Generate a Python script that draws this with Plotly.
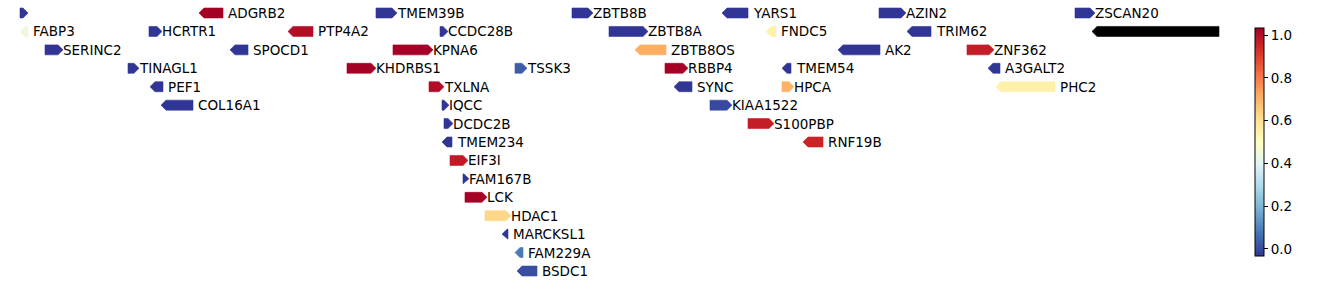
import math
import plotly.graph_objects as go
from plotly.colors import sample_colorscale

# ---------------- data ----------------
genes = ["", "FABP3", "SERINC2", "TINAGL1", "HCRTR1", "PEF1", "COL16A1", "ADGRB2",
         "SPOCD1", "PTP4A2", "KHDRBS1", "TMEM39B", "KPNA6", "TXLNA", "CCDC28B", "IQCC",
         "DCDC2B", "TMEM234", "EIF3I", "FAM167B", "LCK", "HDAC1", "MARCKSL1", "TSSK3",
         "FAM229A", "BSDC1", "ZBTB8B", "ZBTB8A", "ZBTB8OS", "RBBP4", "SYNC", "KIAA1522",
         "YARS1", "S100PBP", "FNDC5", "HPCA", "TMEM54", "RNF19B", "AK2", "AZIN2",
         "TRIM62", "ZNF362", "A3GALT2", "PHC2", "ZSCAN20", ""]
starts = [20, 25, 45, 128, 149, 155, 166, 204,
          235, 293, 347, 376, 393, 429, 440, 442,
          444, 447, 450, 463, 465, 485, 507, 515,
          520, 522, 572, 609, 640, 665, 679, 710,
          727, 748, 771, 782, 787, 808, 843, 879,
          912, 967, 993, 1001, 1075, 1097]
ends = [23, 28, 58, 134, 157, 163, 193, 223,
        248, 313, 371, 392, 428, 439, 443, 444,
        448, 452, 463, 464, 482, 506, 508, 522,
        523, 537, 588, 643, 666, 683, 692, 727,
        748, 769, 776, 789, 791, 823, 880, 901,
        931, 989, 1000, 1055, 1090, 1219]
strands = [1, -1, 1, 1, 1, -1, -1, -1,
           -1, -1, 1, 1, 1, 1, 1, 1,
           1, -1, 1, 1, 1, 1, -1, 1,
           -1, -1, 1, 1, -1, 1, -1, 1,
           -1, 1, -1, 1, -1, -1, -1, 1,
           -1, 1, -1, -1, 1, -1]
tracks = [0, 1, 2, 3, 1, 4, 5, 0,
          2, 1, 3, 0, 2, 4, 1, 5,
          6, 7, 8, 9, 10, 11, 12, 3,
          13, 14, 0, 1, 2, 3, 4, 5,
          0, 6, 1, 4, 3, 7, 2, 0,
          1, 2, 3, 4, 0, 1]
scores = [0.0, 0.445, 0.0, 0.0, 0.0, 0.0, 0.0, 1.0,
          0.0, 0.97, 1.0, 0.0, 1.0, 0.975, 0.0, 0.0,
          0.0, 0.0, 0.945, 0.0, 1.0, 0.615, 0.0, 0.062,
          0.11, 0.038, 0.0, 0.0, 0.7, 1.0, 0.0, 0.03,
          0.0, 0.94, 0.542, 0.69, 0.0, 0.925, 0.0, 0.0,
          0.0, 0.94, 0.0, 0.545, 0.0, None]
cbar_ticks = [0.0, 0.2, 0.4, 0.6, 0.8, 1.0]

# ---------------- style ----------------
RDYLBU_R = ["#313695", "#4575b4", "#74add1", "#abd9e9", "#e0f3f8", "#ffffbf",
            "#fee090", "#fdae61", "#f46d43", "#d73027", "#a50026"]
colorscale = [[i / 10, c] for i, c in enumerate(RDYLBU_R)]
CMIN, CMAX = -0.033, 1.033      # colorbar extent
HEAD = 5.0          # arrow head length (x units)
HALF_H = 0.27       # half arrow height (track units)
FONT = dict(family="DejaVu Sans", size=13.5, color="black")

fig = go.Figure()

for name, s, e, st, tr, sc in zip(genes, starts, ends, strands, tracks, scores):
    y = tr
    if st > 0:
        xs = [s, e, e + HEAD, e, s, s]
    else:
        xs = [e, s, s - HEAD, s, e, e]
    ys = [y - HALF_H, y - HALF_H, y, y + HALF_H, y + HALF_H, y - HALF_H]
    if sc is None or (isinstance(sc, float) and math.isnan(sc)):
        col = "black"
    else:
        col = sample_colorscale(colorscale, [min(max(sc, 0), 1)])[0]
    fig.add_trace(go.Scatter(x=xs, y=ys, mode="lines", fill="toself",
                             fillcolor=col, line=dict(width=0.6, color=col),
                             hoverinfo="skip", showlegend=False))
    if name:
        fig.add_annotation(x=e + HEAD, y=y, text=name, showarrow=False,
                           xanchor="left", yanchor="middle", font=FONT,
                           borderpad=0, xshift=-1)

# colorbar carrier
fig.add_trace(go.Scatter(
    x=[None], y=[None], mode="markers", showlegend=False, hoverinfo="skip",
    marker=dict(color=[0.5], colorscale=colorscale, cmin=CMIN, cmax=CMAX,
                showscale=True,
                colorbar=dict(thicknessmode="pixels", thickness=9,
                              lenmode="pixels", len=228,
                              x=1255 / 1338, xanchor="left", xpad=0,
                              y=1 - 142 / 285, yanchor="middle", ypad=0,
                              outlinewidth=1, outlinecolor="black",
                              tickvals=cbar_ticks, ticktext=[f"{v:.1f}" for v in cbar_ticks],
                              ticks="outside", ticklen=4, tickwidth=1, tickcolor="black",
                              tickfont=FONT))))

n_rows = 285
row0, dy = 13.0, 18.43
fig.update_layout(
    width=1338, height=285,
    margin=dict(l=0, r=0, t=0, b=0),
    paper_bgcolor="white", plot_bgcolor="white",
    xaxis=dict(range=[0, 1338], visible=False, fixedrange=True),
    yaxis=dict(range=[(n_rows - row0) / dy, -row0 / dy], visible=False, fixedrange=True),
)

fig.write_html("out.html")
